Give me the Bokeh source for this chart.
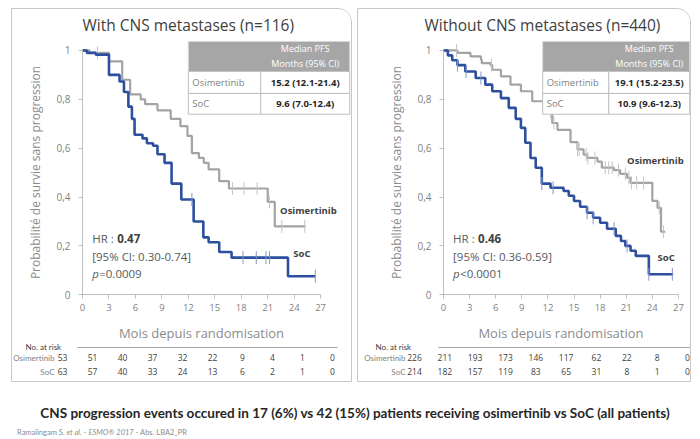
import numpy as np
from bokeh.plotting import figure
from bokeh.models import Range1d, FixedTicker, Div, Spacer, CustomJSTickFormatter
from bokeh.layouts import row, column
from bokeh.core.properties import value
from bokeh.embed import file_html
from bokeh.resources import INLINE

FONT = "Open Sans"
CAPFONT = "Lato"

# ---------------- data ----------------
months_ticks = [0, 3, 6, 9, 12, 15, 18, 21, 24, 27]
prob_ticks = [0, 0.2, 0.4, 0.6, 0.8, 1]

# With CNS metastases (n=116)
l_osi_t = [0, 0.8, 3.0, 4.5, 5.4, 6.6, 7.1, 8.5, 10.0, 11.1, 11.9, 12.4, 13.2, 13.75, 14.3, 15.5, 16.6, 21.0, 21.8]
l_osi_s = [1.0, 0.99, 0.955, 0.88, 0.82, 0.80, 0.78, 0.755, 0.72, 0.69, 0.65, 0.58, 0.56, 0.54, 0.513, 0.465, 0.435, 0.38, 0.28]
l_osi_end = 25.3
l_osi_cens = [1.7, 17.0, 18.3, 19.8, 21.2, 22.6, 25.2]

l_soc_t = [0, 0.5, 1.5, 3.0, 4.2, 4.7, 5.2, 5.6, 5.9, 6.8, 7.3, 8.0, 8.5, 9.3, 10.1, 11.2, 12.6, 13.7, 14.3, 15.5, 16.9, 23.3]
l_soc_s = [1.0, 0.99, 0.983, 0.90, 0.873, 0.83, 0.77, 0.72, 0.655, 0.64, 0.62, 0.61, 0.575, 0.54, 0.455, 0.39, 0.30, 0.235, 0.215, 0.175, 0.152, 0.076]
l_soc_end = 26.4
l_soc_cens = [12.4, 18.2, 19.7, 20.8, 21.2, 26.4]

# Without CNS metastases (n=440)
r_osi_t = [0, 1.6, 3.1, 4.3, 4.4, 5.4, 5.6, 6.6, 7.7, 8.9, 10.2, 11.5, 12.5, 13.1, 14.6, 15.4, 16.1, 16.5, 17.7, 18.2, 19.6, 20.3, 21.1, 21.5, 24.0, 24.6, 25.0]
r_osi_s = [1.0, 0.99, 0.976, 0.962, 0.948, 0.94, 0.921, 0.894, 0.86, 0.833, 0.792, 0.751, 0.703, 0.675, 0.625, 0.595, 0.574, 0.56, 0.545, 0.52, 0.51, 0.495, 0.479, 0.458, 0.384, 0.356, 0.258]
r_osi_end = 25.5
r_osi_cens = [1.5, 5.5, 12.3, 12.7, 15.4, 15.6, 16.4, 16.6, 17.4, 18.6, 19.0, 19.4, 20.1, 20.9, 21.3, 21.6, 22.2, 23.0, 24.8, 25.3]

r_soc_t = [0, 0.5, 1.0, 1.6, 2.5, 3.7, 4.8, 5.6, 6.6, 7.5, 8.3, 8.9, 9.4, 10.0, 10.6, 11.3, 12.3, 13.8, 14.4, 15.0, 15.7, 16.5, 17.2, 18.0, 18.8, 19.8, 20.4, 20.9, 21.5, 22.1, 23.6]
r_soc_s = [1.0, 0.98, 0.96, 0.94, 0.914, 0.887, 0.86, 0.833, 0.805, 0.765, 0.72, 0.683, 0.622, 0.56, 0.52, 0.455, 0.438, 0.425, 0.405, 0.384, 0.36, 0.336, 0.315, 0.295, 0.27, 0.241, 0.22, 0.2, 0.18, 0.159, 0.084]
r_soc_end = 26.4
r_soc_cens = [1.6, 2.6, 4.3, 11.3, 12.6, 16.5, 17.2, 19.6, 21.1, 23.6, 26.3]

# medians table
table_header = ["Median PFS", "Months (95% CI)"]
table_arms = ["Osimertinib", "SoC"]
l_median = ["15.2 (12.1-21.4)", "9.6 (7.0-12.4)"]
r_median = ["19.1 (15.2-23.5)", "10.9 (9.6-12.3)"]

# hazard ratios
l_hr = ["HR : ", "0.47", "[95% CI: 0.30-0.74]", "=0.0009"]
r_hr = ["HR : ", "0.46", "[95% CI: 0.36-0.59]", "<0.0001"]

# numbers at risk
l_risk_osi = [53, 51, 40, 37, 32, 22, 9, 4, 1, 0]
l_risk_soc = [63, 57, 40, 33, 24, 13, 6, 2, 1, 0]
r_risk_osi = [226, 211, 193, 173, 146, 117, 62, 22, 8, 0]
r_risk_soc = [214, 182, 157, 119, 83, 65, 31, 8, 1, 0]

titles = ["With CNS metastases (n=116)", "Without CNS metastases (n=440)"]
caption = "CNS progression events occured in 17 (6%) vs 42 (15%) patients receiving osimertinib vs SoC (all patients)"

GRAY = "#a3a3a3"
BLUE = "#2c4f9e"
TXT = "#595959"


def surv_at(t, s, c):
    idx = np.searchsorted(np.array(t), np.array(c), side="right") - 1
    return list(np.array(s)[idx])


def panel_fig(title, width, xr, title_offset, curves, table_x, medians, hr, lab_pos,
              risk_xr, osi, soc, line_x, hdr_offset, lab_offset):
    p = figure(width=width, height=372, x_range=Range1d(*xr), y_range=Range1d(-0.355, 1.053),
               output_backend="svg", toolbar_location=None, title=title,
               min_border_left=0, min_border_right=0, min_border_top=27, min_border_bottom=0)
    p.extra_x_ranges = {"risk": Range1d(*risk_xr)}
    p.extra_y_ranges = {"risk": Range1d(-0.714, 23.93)}
    p.outline_line_color = None
    p.grid.visible = False
    p.title.text_font = FONT
    p.title.text_font_size = "15.5px"
    p.title.text_font_style = "normal"
    p.title.text_color = "#404040"
    p.title.align = "left"
    p.title.offset = title_offset
    p.title.standoff = 4

    for ax in (p.xaxis[0], p.yaxis[0]):
        ax.fixed_location = 0
        ax.axis_line_color = "#bfbfbf"
        ax.major_tick_line_color = "#bfbfbf"
        ax.minor_tick_line_color = None
        ax.major_tick_in = 0
        ax.major_tick_out = 4
        ax.major_label_text_font = FONT
        ax.major_label_text_color = "#7f7f7f"
        ax.axis_label_text_font = FONT
        ax.axis_label_text_font_style = "normal"
        ax.axis_label_text_color = "#8c8c8c"
    p.xaxis.ticker = FixedTicker(ticks=months_ticks)
    p.xaxis.bounds = (0, 27)
    p.xaxis.major_label_text_font_size = "9.5px"
    p.xaxis.axis_label = "Mois depuis randomisation"
    p.xaxis.axis_label_text_font_size = "13px"
    p.xaxis.axis_label_standoff = 10
    p.xaxis.major_label_standoff = 5
    p.yaxis.ticker = FixedTicker(ticks=prob_ticks)
    p.yaxis.bounds = (0, 1)
    p.yaxis.major_label_text_font_size = "10px"
    p.yaxis.formatter = CustomJSTickFormatter(
        code="return (tick == 0 || tick == 1) ? tick.toFixed(0) : tick.toFixed(1).replace('.', ',');")
    p.yaxis.axis_label = "Probabilité de survie sans progression"
    p.yaxis.axis_label_text_font_size = "12px"
    p.yaxis.axis_label_standoff = 9
    p.yaxis.major_label_standoff = 8

    for (t, s, end, cens, col, ccol, lw) in curves:
        p.step(list(t) + [end], list(s) + [s[-1]], mode="after", line_color=col, line_width=lw)
        p.scatter(cens, surv_at(t, s, cens), marker="dash", angle=np.pi / 2, size=13,
                  line_color=ccol, line_width=1)

    # median table
    x0, x1, x2 = table_x
    p.quad(left=[x0], right=[x2], top=[1.037], bottom=[0.914], fill_color="#a6a6a6", line_color="#d9d9d9")
    p.quad(left=[x0, x1, x0, x1], right=[x1, x2, x1, x2], top=[0.914, 0.914, 0.824, 0.824],
           bottom=[0.824, 0.824, 0.739, 0.739], fill_color="white", line_color="#bfbfbf")
    xc = (x1 + x2) / 2
    p.text(x=[xc, xc], y=[1.006, 0.948], text=table_header, text_align="center", text_baseline="middle",
           text_font=value(FONT), text_font_size="9px", text_color="white")
    p.text(x=[x0, x0], y=[0.869, 0.781], text=table_arms, x_offset=4, text_align="left", text_baseline="middle",
           text_font=value(FONT), text_font_size="9.5px", text_color="#7f7f7f")
    p.text(x=[xc, xc], y=[0.869, 0.781], text=medians, text_align="center", text_baseline="middle",
           text_font=value(FONT), text_font_size="9.5px", text_font_style="bold", text_color="#262626")

    # HR block
    hx = 1.1
    fs = "11.5px"
    p.text(x=[hx], y=[0.229], text=[hr[0]], text_align="left", text_baseline="middle",
           text_font=value(FONT), text_font_size=fs, text_color=TXT)
    p.text(x=[hx], y=[0.229], text=[hr[1]], x_offset=25, text_align="left", text_baseline="middle",
           text_font=value(FONT), text_font_size=fs, text_font_style="bold", text_color="#404040")
    p.text(x=[hx], y=[0.158], text=[hr[2]], text_align="left", text_baseline="middle",
           text_font=value(FONT), text_font_size=fs, text_color=TXT)
    p.text(x=[hx], y=[0.088], text=["p"], text_align="left", text_baseline="middle",
           text_font=value(FONT), text_font_size=fs, text_font_style="italic", text_color=TXT)
    p.text(x=[hx], y=[0.088], text=[hr[3]], x_offset=7, text_align="left", text_baseline="middle",
           text_font=value(FONT), text_font_size=fs, text_color=TXT)

    # curve labels
    (ox, oy), (sx, sy) = lab_pos
    p.text(x=[ox, sx], y=[oy, sy], text=table_arms, text_align="left", text_baseline="middle",
           text_font=value(FONT), text_font_size="9.5px", text_font_style="bold", text_color="#404040")

    # numbers at risk (own x / y scales)
    n = len(months_ticks)
    p.text(x=months_ticks + months_ticks, y=[1] * n + [0] * n,
           text=[str(v) for v in osi] + [str(v) for v in soc],
           x_range_name="risk", y_range_name="risk", text_align="center", text_baseline="middle",
           text_font=value(FONT), text_font_size="8.5px", text_color="#404040")
    p.text(x=[0, 0], y=[1, 0], text=table_arms, x_offset=lab_offset,
           x_range_name="risk", y_range_name="risk", text_align="right", text_baseline="middle",
           text_font=value(CAPFONT), text_font_size="8px", text_color="#7f7f7f")
    p.text(x=[0], y=[1.78], text=["No. at risk"], x_offset=hdr_offset,
           x_range_name="risk", y_range_name="risk", text_align="left", text_baseline="middle",
           text_font=value(CAPFONT), text_font_size="8px", text_color="#404040")
    p.segment(x0=[line_x[0]], y0=[1.72], x1=[line_x[1]], y1=[1.72], x_range_name="risk", y_range_name="risk",
              line_color="#a6a6a6", line_width=1)
    return p


left_p = panel_fig(titles[0], 339, (-7.94, 30.5), 70,
                   [(l_osi_t, l_osi_s, l_osi_end, l_osi_cens, GRAY, "#c4c4c4", 2.2),
                    (l_soc_t, l_soc_s, l_soc_end, l_soc_cens, BLUE, "#8797c8", 2.6)],
                   (12.0, 20.2, 30.3), l_median, l_hr, ((22.4, 0.343), (23.9, 0.167)),
                   (-5.0, 28.9), l_risk_osi, l_risk_soc, (1.5, 27.5), -37, -8)
right_p = panel_fig(titles[1], 332, (-9.77, 28.39), 66,
                    [(r_osi_t, r_osi_s, r_osi_end, r_osi_cens, GRAY, "#c4c4c4", 2.2),
                     (r_soc_t, r_soc_s, r_soc_end, r_soc_cens, BLUE, "#8797c8", 2.6)],
                    (11.4, 19.0, 28.3), r_median, r_hr, ((21.1, 0.551), (24.6, 0.151)),
                    (-5.54, 27.30), r_risk_osi, r_risk_soc, (2.37, 27.3), -39, -9)

panel_style = {"border": "1px solid #c8c8c8", "border-top-right-radius": "14px", "overflow": "hidden"}
left_panel = column(left_p, styles=panel_style)
right_panel = column(right_p, styles=panel_style)

cap_html = (
    '<div style="font-family:Lato; text-align:center; font-size:13.5px; font-weight:bold; color:#262626; '
    'margin-top:17px; width:684px;">' + caption + '</div>'
    '<div style="font-family:Lato; font-size:7.5px; color:#8c8c8c; margin-top:5px; margin-left:4px;">'
    'Ramalingam S. <i>et al.</i> - <i>ESMO® 2017</i> - Abs. LBA2_PR</div>'
)
cap = Div(text=cap_html, width=684, height=48)

layout = column(
    Spacer(height=8),
    row(Spacer(width=11), left_panel, Spacer(width=5), right_panel),
    row(Spacer(width=8), cap),
)

open("out.html", "w").write(file_html(layout, INLINE))
